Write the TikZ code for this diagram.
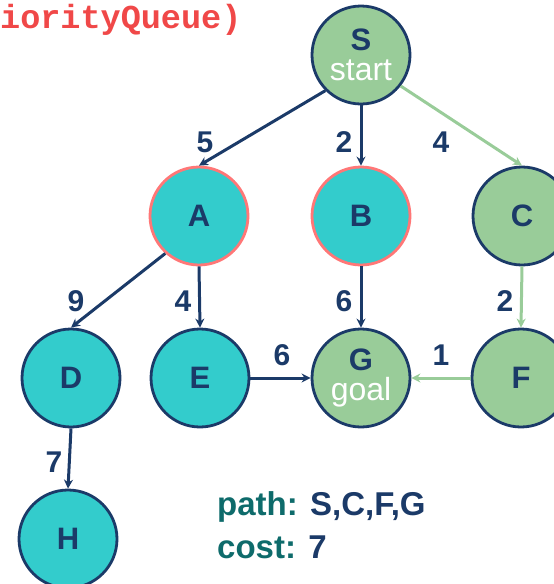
\documentclass[tikz,border=0pt]{standalone}
\usepackage{fontspec}
\setmainfont{Liberation Sans}
\newfontfamily\codefont{Liberation Mono}
\usetikzlibrary{arrows.meta}
\definecolor{navy}{HTML}{1B3A68}
\definecolor{tealfill}{HTML}{33CCCC}
\definecolor{greenfill}{HTML}{99CC99}
\definecolor{salmon}{HTML}{FF7777}
\definecolor{pathteal}{HTML}{0E6B6B}
\definecolor{codered}{HTML}{F04848}
\newcommand{\subtext}[1]{{\fontsize{32}{30}\selectfont\mdseries\color{white}#1}}
\tikzset{
  vtx/.style={circle, minimum size=98pt, inner sep=0pt, line width=2.8pt, draw=navy,
    font=\fontsize{31}{30}\selectfont\bfseries, text=navy, align=center},
  open/.style={vtx, fill=tealfill},
  visited/.style={vtx, fill=greenfill},
  queued/.style={open, draw=salmon},
  tree/.style={navy, line width=3pt, -{Stealth[length=9pt,width=9pt]}},
  best/.style={greenfill, line width=3pt, -{Stealth[length=9pt,width=9pt]}},
  lbl/.style={font=\fontsize{30}{30}\selectfont\bfseries, text=navy, inner sep=0pt},
  result/.style={anchor=base west, inner sep=0pt, font=\fontsize{33}{33}\selectfont\bfseries}
}
\begin{document}
\begin{tikzpicture}[x=1pt,y=-1pt]
\useasboundingbox (0,0) rectangle (554,584);

% heading
\node[anchor=base west, inner sep=0pt, text=codered,
      font=\codefont\bfseries\fontsize{33.5}{33.5}\selectfont] (title) at (0,28) {iorityQueue)};

% vertices
\node[visited] (S) at (361,55) {S\\\subtext{start}};
\node[queued] (A) at (199,216) {A};
\node[queued] (B) at (361,216) {B};
\node[visited] (C) at (522,216) {C};
\node[open] (D) at (71,378) {D};
\node[open] (E) at (200,378) {E};
\node[visited] (G) at (361,378) {G\\\subtext{goal}};
\node[visited] (F) at (521,378) {F};
\node[open] (H) at (68,539) {H};

% edges with costs
\draw[tree] (S.225) -- (A.north) node[lbl] at (205,142) {5};
\draw[tree] (S.south) -- (B.north) node[lbl] at (344,142) {2};
\draw[best] (S.-38) -- (C.north) node[lbl] at (441,142) {4};
\draw[tree] (A.228) -- (D.north) node[lbl] at (76,301) {9};
\draw[tree] (A.south) -- (E.north) node[lbl] at (183,301) {4};
\draw[tree] (B.south) -- (G.north) node[lbl] at (344,301) {6};
\draw[best] (C.south) -- (F.north) node[lbl] at (505,301) {2};
\draw[tree] (E.east) -- (G.west) node[lbl] at (282,355) {6};
\draw[best] (F.west) -- (G.east) node[lbl] at (441,355) {1};
\draw[tree] (D.south) -- (H.north) node[lbl] at (54,462) {7};

% result
\node[result] (res) at (217,515)
  {\textcolor{pathteal}{path:} \textcolor{navy}{S,C,F,G}};
\node[result] (cost) at (217,558)
  {\textcolor{pathteal}{cost:} \textcolor{navy}{7}};
\end{tikzpicture}
\end{document}
